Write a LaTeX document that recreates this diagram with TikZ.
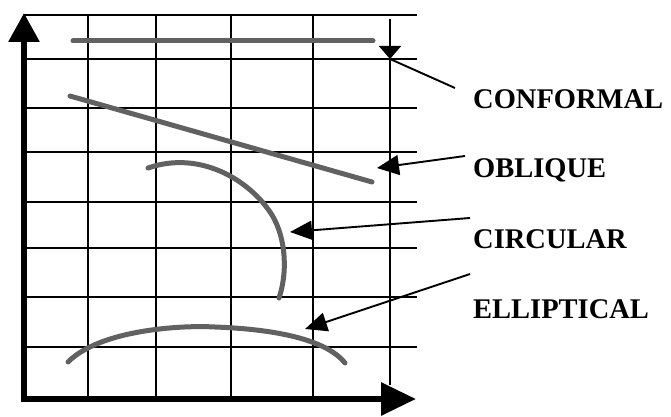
\documentclass[tikz,border=0pt]{standalone}
\usepackage{fontspec}
\setmainfont{Liberation Serif}
\usetikzlibrary{arrows.meta}
\begin{document}
\begin{tikzpicture}[x=1pt,y=-1pt,
  gridline/.style={line width=2.3pt,black},
  axisline/.style={line width=6pt,black},
  curveline/.style={line width=5pt,black!62,line cap=round},
  pointer/.style={line width=1.9pt,black},
  lbl/.style={font=\fontsize{28.5}{30}\selectfont\bfseries,anchor=west,inner sep=0pt}]
\useasboundingbox (0,0) rectangle (671,417);
% grid
\foreach \y in {15,59,108,152,202,248,297,347}
  \draw[gridline] (24,\y) -- (417,\y);
\foreach \x in {88,156,231,313}
  \draw[gridline] (\x,15) -- (\x,398);
\draw[gridline] (390,19) -- (390,385);
% axes
\draw[axisline,-{Triangle[length=29pt,width=30pt]}] (24,402) -- (24,13);
\draw[axisline,-{Triangle[length=35pt,width=32pt]}] (21,399) -- (416,399);
% curves
\draw[curveline] (73,41) -- (373,41);
\draw[curveline] (70,96) -- (372,182);
\draw[curveline] (148,168) .. controls (200,150) and (250,180) .. (272,215)
  .. controls (287,240) and (287,275) .. (279,298);
\draw[curveline] (68,362) .. controls (100,330) and (180,325) .. (215,327)
  .. controls (270,329) and (325,338) .. (345,363);
% labels
\node[lbl] (conf) at (473,99) {CONFORMAL};
\node[lbl] (obl) at (473,170) {OBLIQUE};
\node[lbl] (circ) at (473,239) {CIRCULAR};
\node[lbl] (ell) at (473,309) {ELLIPTICAL};
% pointer coordinates
\coordinate (cs) at (455,88);
\coordinate (ct) at (390,59);
\coordinate (os) at (465,156);
\coordinate (ot) at (377,168);
\coordinate (ccs) at (470,218);
\coordinate (cct) at (290,232);
\coordinate (es) at (470,274);
\coordinate (et) at (305,329);
% pointers
\draw[pointer] (cs) -- (ct);
\draw[pointer,-{Triangle[length=13pt,width=22pt]}] (390,46) -- (ct);
\draw[pointer,-{Triangle[length=22pt,width=20pt]}] (os) -- (ot);
\draw[pointer,-{Triangle[length=22pt,width=19pt]}] (ccs) -- (cct);
\draw[pointer,-{Triangle[length=22pt,width=19pt]}] (es) -- (et);
\end{tikzpicture}
\end{document}
